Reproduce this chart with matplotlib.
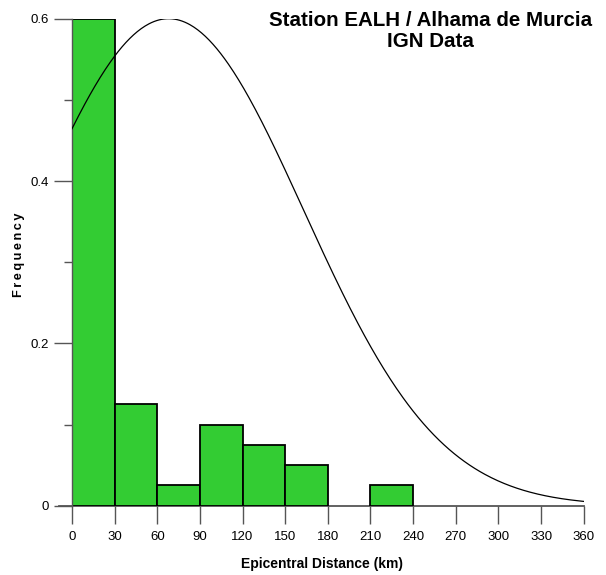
import numpy as np
import matplotlib
matplotlib.use("Agg")
import matplotlib.pyplot as plt

plt.rcParams['font.family'] = ['Liberation Sans', 'DejaVu Sans']

bin_edges = [0, 30, 60, 90, 120, 150, 180, 210, 240, 270, 300, 330, 360]
freq = [0.6, 0.125, 0.025, 0.1, 0.075, 0.05, 0.0, 0.025, 0.0, 0.0, 0.0, 0.0]
x_ticks = [0, 30, 60, 90, 120, 150, 180, 210, 240, 270, 300, 330, 360]
y_ticks = [0, 0.2, 0.4, 0.6]
y_ticklabels = ["0", "0.2", "0.4", "0.6"]
# fitted normal curve parameters
fit_mu = 68.0
fit_sigma = 95.0
fit_peak = 0.6

fig = plt.figure(figsize=(6.06, 5.75), dpi=100)
ax = fig.add_axes([0.1188, 0.1205, 0.9632 - 0.1188, 0.9675 - 0.1205])

lefts = bin_edges[:-1]
widths = np.diff(bin_edges)
for l, w, f in zip(lefts, widths, freq):
    if f > 0:
        ax.bar(l, f, width=w, align='edge', color='#33cc33', edgecolor='black', linewidth=1.3, zorder=2)

xs = np.linspace(0, 360, 400)
ys = fit_peak * np.exp(-(xs - fit_mu) ** 2 / (2 * fit_sigma ** 2))
ax.plot(xs, ys, color='black', linewidth=0.9, zorder=3)

ax.set_xlim(0, 360)
ax.set_ylim(0, 0.6)
for s in ['top', 'right', 'bottom']:
    ax.spines[s].set_visible(False)
ax.spines['left'].set_color('#555555')
ax.spines['left'].set_linewidth(1.0)
ax.axhline(0, xmin=-0.025, xmax=1.0, color='#555555', linewidth=1.3, clip_on=False, zorder=1)

ax.set_xticks(x_ticks)
ax.set_xticklabels([str(t) for t in x_ticks], fontsize=9.5)
ax.set_yticks(y_ticks)
ax.set_yticklabels(y_ticklabels, fontsize=9.5)
ax.set_yticks([0.1, 0.3, 0.5], minor=True)
ax.tick_params(axis='x', which='major', length=13, width=1.0, color='#555555', pad=5, direction='out')
ax.tick_params(axis='y', which='major', length=13, width=1.0, color='#555555', pad=4, direction='out')
ax.tick_params(axis='y', which='minor', length=6, width=1.0, color='#555555', direction='out')

ax.set_xlabel('Epicentral Distance (km)', fontsize=10, fontweight='bold')
ax.xaxis.set_label_coords(0.488, -0.105)
ax.set_ylabel('F\u2009r\u2009e\u2009q\u2009u\u2009e\u2009n\u2009c\u2009y', fontsize=9.2, fontweight='bold')
ax.yaxis.set_label_coords(-0.092, 0.515)

fig.text(0.7104, 0.981, 'Station EALH / Alhama de Murcia', ha='center', va='top',
         fontsize=14.8, fontweight='bold')
fig.text(0.7104, 0.944, 'IGN Data', ha='center', va='top',
         fontsize=14.8, fontweight='bold')

fig.savefig('out.png', dpi=100)
